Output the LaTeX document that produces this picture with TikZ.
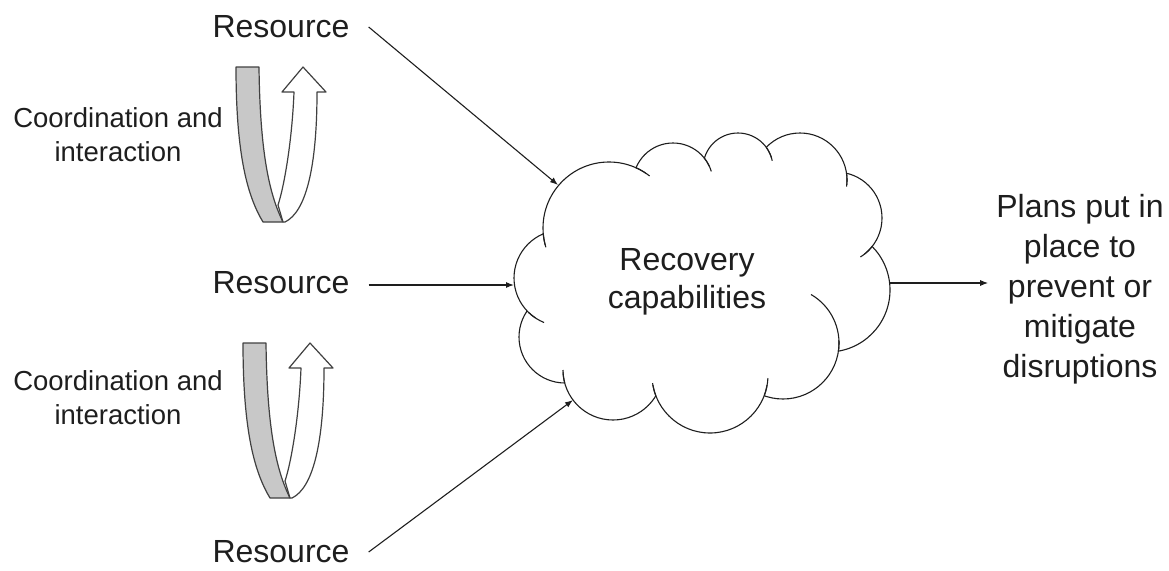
\documentclass[tikz,border=0pt]{standalone}
\usepackage{fontspec}
\setmainfont{Liberation Sans}
\usetikzlibrary{arrows.meta}
\definecolor{ink}{HTML}{1E1E1E}
\definecolor{bandgray}{HTML}{C8C8C8}
\tikzset{
  cloudline/.style={draw=ink, line width=1.1pt, fill=white},
  stub/.style={draw=ink, line width=1.1pt},
  conn/.style={draw=ink, line width=1.1pt, -{Latex[length=8pt,width=6pt]}},
  reslbl/.style={text=ink, inner ysep=0pt, inner xsep=19pt, font=\fontsize{32}{38}\selectfont},
  coordlbl/.style={text=ink, inner sep=0pt, align=center, font=\fontsize{27.5}{34}\selectfont},
  bigtxt/.style={text=ink, inner sep=0pt, align=center},
  uback/.style={draw=black!75, line width=1.2pt, fill=bandgray, line join=round},
  ufront/.style={draw=black!75, line width=1.2pt, fill=white, line join=round},
  uturn/.pic={
    \path[uback] (0,0) -- (23,0) .. controls (24,80) and (32,125) .. (47,155)
      -- (27,155) .. controls (12,130) and (0,90) .. (0,0) -- cycle;
    \path[ufront] (58,25) -- (46,25) -- (67,0) -- (90,25) -- (81,25)
      .. controls (81,100) and (70,145) .. (49,155) -- (47,155) -- (42,138)
      .. controls (48,120) and (56,75) .. (58,25) -- cycle;
  }
}
\newcommand\cloudpuff[3]{\path[cloudline] (#1,#2) circle[radius=#3];}
\newcommand\cloudstub[5]{\path[stub] ([shift={(#4:#3)}]#1,#2) arc[start angle=#4, end angle=#5, radius=#3];}
\begin{document}
\begin{tikzpicture}[x=1pt,y=-1pt]
\useasboundingbox (0,0) rectangle (1169,570);

% ---- cloud (puffs drawn in overlapping order) ----
\cloudpuff{828}{290}{62} % G
\cloudpuff{836}{218}{46} % F
\cloudpuff{800}{180}{47} % E
\cloudpuff{738}{168}{35} % D
\cloudpuff{673}{183}{40} % C
\cloudpuff{565}{337}{46} % L
\cloudpuff{562}{278}{48} % A
\cloudpuff{609}{228}{66} % B
\cloudpuff{613}{370}{50} % K
\cloudpuff{783}{343}{56} % H
\cloudpuff{710}{375}{58} % I
% interior mask
\begin{scope}[fill=white]
\fill (828,290) circle[radius=51];
\fill (836,218) circle[radius=35];
\fill (800,180) circle[radius=36];
\fill (738,168) circle[radius=24];
\fill (673,183) circle[radius=29];
\fill (565,337) circle[radius=35];
\fill (562,278) circle[radius=37];
\fill (609,228) circle[radius=55];
\fill (613,370) circle[radius=39];
\fill (783,343) circle[radius=45];
\fill (710,375) circle[radius=47];
\fill (556,240) -- (644,178) -- (707,172) -- (764,165) -- (836,185) -- (862,240)
  -- (868,284) -- (845,330) -- (760,381) -- (662,387) -- (580,370) -- (545,312)
  -- (530,285) -- cycle;
\end{scope}
% inner arcs of the cloud
\cloudstub{609}{228}{66}{175}{163}   % B into A
\cloudstub{609}{228}{66}{-66}{-52}   % B into C
\cloudstub{673}{183}{40}{-39}{-25}   % C into D
\cloudstub{738}{168}{35}{-36}{-12}   % D into E
\cloudstub{800}{180}{47}{-8}{8}      % E into F
\cloudstub{836}{218}{46}{38}{58}     % F into G
\cloudstub{783}{343}{56}{8}{-60}     % H into G
\cloudstub{710}{375}{58}{20}{3}      % I into H
\cloudstub{710}{375}{58}{159}{172}   % I into K
\cloudstub{613}{370}{50}{165}{180}   % K into L
\cloudstub{562}{278}{48}{134}{112}   % A into L
\node[bigtxt, font=\fontsize{32}{38}\selectfont] (rec) at (687,282) {Recovery\\capabilities};

% cloud contact points
\coordinate (c1) at (558,185);
\coordinate (c2) at (514,285);
\coordinate (c3) at (573,400);
\coordinate (c4) at (890,283);

% ---- labels ----
\node[reslbl] (r1) at (281,27) {Resource};
\node[reslbl] (r2) at (281,283) {Resource};
\node[reslbl] (r3) at (281,552) {Resource};
\node[coordlbl] (k1) at (118,135) {Coordination and\\interaction};
\node[coordlbl] (k2) at (118,398) {Coordination and\\interaction};
\node[bigtxt, font=\fontsize{32}{40}\selectfont, inner xsep=8pt] (pl) at (1080,289) {Plans put in\\place to\\prevent or\\mitigate\\disruptions};

% ---- U-turn arrows ----
\pic at (236,67) {uturn};
\pic at (243,343) {uturn};

% ---- connectors ----
\draw[conn] (r1.east) -- (c1);
\draw[conn] (r2.east |- c2) -- (c2);
\draw[conn] (r3.east) -- (c3);
\draw[conn] (c4) -- (c4 -| pl.west);
\end{tikzpicture}
\end{document}
